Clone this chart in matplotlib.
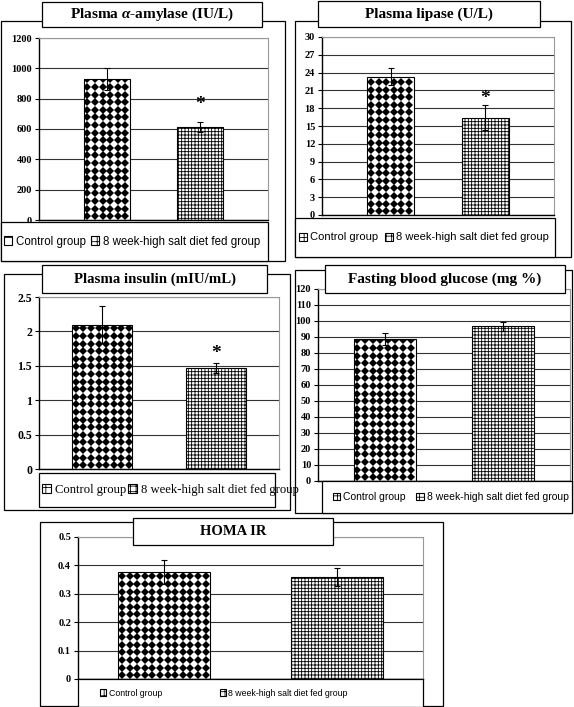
"""Five-panel bar chart: pancreatic markers, control vs high-salt diet."""

import matplotlib

matplotlib.use("Agg")
import matplotlib.pyplot as plt
import numpy as np
from matplotlib.patches import Rectangle

W, H = 574, 707

GROUPS = ["Control group", "8 week-high salt diet fed group"]
SIGNIF = [False, True]

amylase_mean = [932, 615]
amylase_err = [72, 33]
amylase_ticks = [0, 200, 400, 600, 800, 1000, 1200]

lipase_mean = [23.3, 16.4]
lipase_err = [1.4, 2.1]
lipase_ticks = [0, 3, 6, 9, 12, 15, 18, 21, 24, 27, 30]

insulin_mean = [2.10, 1.47]
insulin_err = [0.27, 0.07]
insulin_ticks = [0, 0.5, 1, 1.5, 2, 2.5]

glucose_mean = [88.9, 96.6]
glucose_err = [3.7, 3.0]
glucose_ticks = [0, 10, 20, 30, 40, 50, 60, 70, 80, 90, 100, 110, 120]

homa_mean = [0.376, 0.358]
homa_err = [0.043, 0.032]
homa_ticks = [0, 0.1, 0.2, 0.3, 0.4, 0.5]

plt.rcParams["mathtext.fontset"] = "custom"
plt.rcParams["mathtext.it"] = "Liberation Serif:italic:bold"
plt.rcParams["mathtext.rm"] = "Liberation Serif:bold"
plt.rcParams["hatch.linewidth"] = 0.6

# layout in pixels: (left, top, right, bottom)
PANELS = [
    dict(title="Plasma $\\alpha$-amylase (IU/L)", mean=amylase_mean, err=amylase_err,
         ticks=amylase_ticks, outer=(1, 21, 285, 261), tbox=(42, 2, 262, 27),
         axes=(39, 38, 268, 220), lbox=(1, 222, 268, 261), margin=0.73, width=0.5,
         tsize=11, ysize=7.5, star=19,
         lfont="Liberation Sans", lsize=8.3, lx=4, colsp=0.5),
    dict(title="Plasma lipase (U/L)", mean=lipase_mean, err=lipase_err,
         ticks=lipase_ticks, outer=(295, 21, 571, 257), tbox=(318, 1, 540, 27),
         axes=(322, 37, 554, 215), lbox=(295, 218, 555, 257), margin=0.73, width=0.5,
         tsize=11, ysize=7.5, star=8,
         lfont="Liberation Sans", lsize=8, lx=299, colsp=0.6),
    dict(title="Plasma insulin (mIU/mL)", mean=insulin_mean, err=insulin_err,
         ticks=insulin_ticks, outer=(4, 274, 290, 510), tbox=(42, 265, 267, 293),
         axes=(39, 297, 279, 469), lbox=(39, 473, 275, 507), margin=0.555, width=0.53,
         tsize=10.7, ysize=8.5, star=11,
         lfont="Liberation Serif", lsize=9.1, lx=42, colsp=0.2),
    dict(title="Fasting blood glucose (mg %)", mean=glucose_mean, err=glucose_err,
         ticks=glucose_ticks, outer=(295, 270, 572, 513), tbox=(325, 265, 565, 293),
         axes=(318, 289, 570, 481), lbox=(322, 481, 572, 513), margin=0.567, width=0.53,
         tsize=11, ysize=7.5, star=None,
         lfont="Liberation Sans", lsize=7.5, lx=333, colsp=1.0),
    dict(title="HOMA IR", mean=homa_mean, err=homa_err,
         ticks=homa_ticks, outer=(40, 522, 443, 706), tbox=(133, 518, 333, 545),
         axes=(78, 537, 423, 679), lbox=(78, 679, 423, 707), margin=0.5, width=0.535,
         tsize=10.5, ysize=7.5, star=None,
         lfont="Liberation Sans", lsize=6.3, lx=100, colsp=6.6),
]


def fig_rect(box):
    left, top, right, bottom = box
    return [left / W, 1 - bottom / H, (right - left) / W, (bottom - top) / H]


def add_box(fig, box, zorder, face="none"):
    x, y, w, h = fig_rect(box)
    fig.add_artist(Rectangle((x, y), w, h, transform=fig.transFigure,
                             facecolor=face, edgecolor="black", linewidth=0.9,
                             zorder=zorder))


def diamond_fill(ax, bar, step=7.6):
    (x0, y0), (x1, y1) = ax.transData.transform(
        [(bar.get_x(), bar.get_y()), (bar.get_x() + bar.get_width(), bar.get_height())])
    xs = np.arange(x0 + step / 2, x1, step)
    ys = np.arange(y0 + step / 2, y1 + step, step)
    gx, gy = np.meshgrid(xs, ys)
    pts = ax.transData.inverted().transform(np.column_stack([gx.ravel(), gy.ravel()]))
    line, = ax.plot(pts[:, 0], pts[:, 1], linestyle="none", marker="D",
                    markersize=3.75, color="black", markeredgewidth=0, zorder=3)
    line.set_clip_path(bar)


def draw_panel(fig, spec):
    add_box(fig, spec["outer"], zorder=-1)
    ax = fig.add_axes(fig_rect(spec["axes"]))
    ticks = spec["ticks"]
    ax.set_ylim(ticks[0], ticks[-1])
    ax.set_xlim(-spec["margin"], 1 + spec["margin"])
    ax.set_yticks(ticks, [f"{t:g}" for t in ticks])
    ax.set_xticks([])
    ax.yaxis.grid(True, color="#333333", linewidth=0.8)
    ax.set_axisbelow(True)
    for side in ("top", "right"):
        ax.spines[side].set_color("#999999")
        ax.spines[side].set_linewidth(0.8)
    for side in ("left", "bottom"):
        ax.spines[side].set_color("black")
        ax.spines[side].set_linewidth(1.0)
    ax.tick_params(axis="y", length=3, width=0.8, pad=2, labelsize=spec["ysize"])
    for lab in ax.get_yticklabels():
        lab.set_fontfamily("Liberation Serif")
        lab.set_fontweight("bold")

    xs = np.arange(len(GROUPS))
    bars = ax.bar(xs, spec["mean"], width=spec["width"], color="white",
                  edgecolor="black", linewidth=0.8, zorder=2)
    bars[1].set_hatch("+++++")
    diamond_fill(ax, bars[0])
    ax.errorbar(xs, spec["mean"], yerr=spec["err"], fmt="none", ecolor="black",
                elinewidth=0.8, capsize=2.5, capthick=0.8, zorder=4)
    if spec["star"] is not None:
        for x, m, e, sig in zip(xs, spec["mean"], spec["err"], SIGNIF):
            if sig:
                ax.annotate("*", xy=(x, m + e), xytext=(0, spec["star"] * 0.72 - 1),
                            textcoords="offset points", ha="center", va="center",
                            fontsize=14, fontweight="bold", family="Liberation Serif")

    add_box(fig, spec["lbox"], zorder=3, face="white")
    handles = [
        Rectangle((0, 0), 1, 1, facecolor="white", edgecolor="black", hatch="++",
                  linewidth=0.8),
        Rectangle((0, 0), 1, 1, facecolor="white", edgecolor="black", hatch="+++",
                  linewidth=0.8),
    ]
    _, ltop, _, lbottom = spec["lbox"]
    leg = fig.legend(handles, GROUPS, loc="center left", ncol=2,
                     bbox_to_anchor=(spec["lx"] / W, 1 - (ltop + lbottom) / 2 / H),
                     bbox_transform=fig.transFigure, frameon=False, borderpad=0,
                     borderaxespad=0, handlelength=0.7, handleheight=0.7,
                     handletextpad=0.3, columnspacing=spec["colsp"],
                     prop={"family": spec["lfont"], "size": spec["lsize"]})
    leg.set_zorder(6)

    add_box(fig, spec["tbox"], zorder=5, face="white")
    left, top, right, bottom = spec["tbox"]
    fig.text((left + right) / 2 / W, 1 - (top + bottom) / 2 / H, spec["title"],
             ha="center", va="center", fontsize=spec["tsize"], fontweight="bold",
             family="Liberation Serif", zorder=7)


fig = plt.figure(figsize=(W / 100, H / 100), dpi=100)
for panel in PANELS:
    draw_panel(fig, panel)
fig.savefig("out.png", dpi=100)
